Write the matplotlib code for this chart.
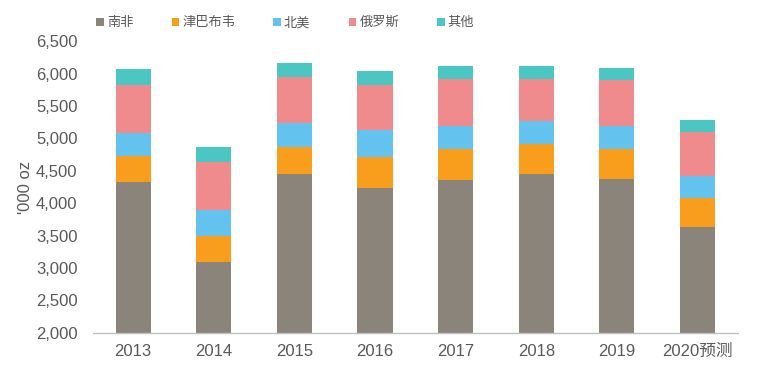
import matplotlib
matplotlib.use('Agg')
import matplotlib.pyplot as plt
import numpy as np

plt.rcParams['font.family'] = ['Liberation Sans', 'Noto Sans CJK SC', 'DejaVu Sans']

# ---------- 数据 ----------
years = ['2013', '2014', '2015', '2016', '2017', '2018', '2019', '2020预测']
south_africa = [4325, 3093, 4454, 4238, 4361, 4454, 4376, 3634]
zimbabwe = [405, 407, 407, 479, 480, 464, 465, 444]
north_america = [357, 397, 386, 413, 355, 345, 355, 345]
russia = [738, 747, 702, 695, 722, 660, 711, 680]
others = [252, 222, 221, 222, 206, 201, 180, 186]

series = [
    ('南非', south_africa, '#8A847A'),
    ('津巴布韦', zimbabwe, '#F99D1C'),
    ('北美', north_america, '#64C3EE'),
    ('俄罗斯', russia, '#EF8B8C'),
    ('其他', others, '#4CC6C2'),
]

# ---------- 绘图 ----------
fig, ax = plt.subplots(figsize=(7.67, 3.84), dpi=100)
fig.subplots_adjust(left=0.121, right=0.962, bottom=0.134, top=0.892)

x = np.arange(len(years))
bottom = np.zeros(len(years))
handles = []
for name, vals, color in series:
    vals = np.array(vals, dtype=float)
    b = ax.bar(x, vals, bottom=bottom, width=0.435, color=color, label=name,
               edgecolor='none')
    bottom += vals
    handles.append(b)

ax.set_ylim(2000, 6500)
ax.set_xlim(-0.5, len(years) - 0.5)
ax.set_yticks(np.arange(2000, 6501, 500))
ax.set_yticklabels([f'{v:,}' for v in range(2000, 6501, 500)])
ax.set_xticks(x)
ax.set_xticklabels(years)

for s in ['top', 'right', 'left']:
    ax.spines[s].set_visible(False)
ax.spines['bottom'].set_color('#BFBFBF')
ax.spines['bottom'].set_linewidth(1.0)
ax.tick_params(axis='both', length=0, labelsize=12, colors='#595959')
ax.tick_params(axis='y', pad=11)
ax.tick_params(axis='x', pad=8)

ax.set_ylabel("'000 oz", fontsize=12, color='#595959', labelpad=2)

fig.legend(handles=handles, labels=[s[0] for s in series], loc='center',
           bbox_to_anchor=(0.372, 0.94), ncol=5, frameon=False,
           fontsize=9.5, handlelength=0.55, handleheight=0.55,
           handletextpad=0.25, columnspacing=2.9, labelcolor='#595959')

plt.savefig('out.png', dpi=100, facecolor='white')
